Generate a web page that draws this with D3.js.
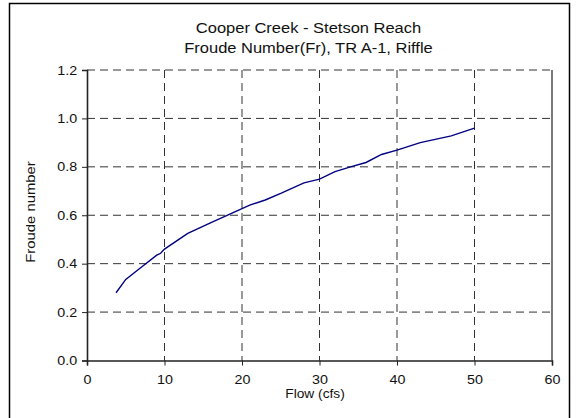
<!DOCTYPE html>
<html>
<head>
<meta charset="utf-8">
<script src="https://cdn.jsdelivr.net/npm/d3@7"></script>
<style>
  html, body { margin: 0; padding: 0; background: #fff; }
  svg { display: block; font-family: "Liberation Sans", Arial, sans-serif; }
</style>
</head>
<body>
<svg id="chart" width="582" height="418"></svg>
<script>
// Froude number vs. flow, Cooper Creek - Stetson Reach, TR A-1 riffle
const flow   = [3.75, 5, 7, 9, 9.5, 10, 13, 16, 19, 21, 23, 25, 28, 30, 32, 34, 36, 38, 40, 43, 47, 50];
const froude = [0.28, 0.335, 0.385, 0.435, 0.443, 0.46, 0.525, 0.57, 0.613, 0.642, 0.663, 0.69, 0.734, 0.749, 0.78, 0.80, 0.818, 0.851, 0.869, 0.90, 0.928, 0.96];

const xTicks = [0, 10, 20, 30, 40, 50, 60];
const yTicks = [0.0, 0.2, 0.4, 0.6, 0.8, 1.0, 1.2];

const titleLines = ["Cooper Creek - Stetson Reach", "Froude Number(Fr), TR A-1, Riffle"];
const xLabel = "Flow (cfs)";
const yLabel = "Froude number";

const svg = d3.select("#chart");
const plot = { left: 87, right: 552, top: 70, bottom: 360.5 };
const WIDE = 1.1; // the labels use a slightly wide sans face

const x = d3.scaleLinear().domain([0, 60]).range([plot.left, plot.right]);
const y = d3.scaleLinear().domain([0, 1.2]).range([plot.bottom, plot.top]);

// outer frame (open at the bottom)
svg.append("path")
  .attr("d", `M9.5,418 V3.5 H569.5 V418`)
  .attr("fill", "none").attr("stroke", "#000").attr("stroke-width", 1.5);

// dashed grid
const grid = svg.append("g").attr("stroke", "#333").attr("stroke-width", 1)
  .attr("stroke-dasharray", "8,5").attr("fill", "none");
grid.selectAll("line.h").data(yTicks.filter(d => d > 0)).join("line")
  .attr("x1", plot.left).attr("x2", plot.right)
  .attr("y1", d => y(d)).attr("y2", d => y(d));
grid.selectAll("line.v").data(xTicks.filter(d => d > 0 && d < 60)).join("line")
  .attr("y1", plot.top).attr("y2", plot.bottom)
  .attr("x1", d => x(d)).attr("x2", d => x(d));

// right frame of plot area
svg.append("line")
  .attr("x1", plot.right).attr("x2", plot.right)
  .attr("y1", plot.top).attr("y2", plot.bottom)
  .attr("stroke", "#222").attr("stroke-width", 1.2);

// axes
const xAxis = d3.axisBottom(x).tickValues(xTicks).tickFormat(d3.format("d")).tickSize(5).tickPadding(9);
const yAxis = d3.axisLeft(y).tickValues(yTicks).tickFormat(d3.format(".1f")).tickSize(5).tickPadding(4);

const gx = svg.append("g").attr("transform", `translate(0,${plot.bottom})`).call(xAxis);
const gy = svg.append("g").attr("transform", `translate(${plot.left},0)`).call(yAxis);
[gx, gy].forEach(g => {
  g.select(".domain").attr("stroke", "#222").attr("stroke-width", 1.6);
  g.selectAll(".tick line").attr("stroke", "#222");
  g.selectAll(".tick text").attr("fill", "#111")
    .attr("transform", `scale(${WIDE},1)`)
    .style("font-family", "'Liberation Sans', Arial, sans-serif").style("font-size", "13px");
});

// series line
const line = d3.line().x((d, i) => x(flow[i])).y(d => y(d));
svg.append("path")
  .datum(froude)
  .attr("d", line)
  .attr("fill", "none")
  .attr("stroke", "#000080")
  .attr("stroke-width", 1.4);

// titles
svg.append("g").selectAll("text").data(titleLines).join("text")
  .attr("transform", (d, i) => `translate(308.5,${32.5 + i * 20}) scale(${WIDE},1)`)
  .attr("text-anchor", "middle").attr("font-size", 15).attr("fill", "#111")
  .text(d => d);

svg.append("text")
  .attr("transform", `translate(315,398) scale(${WIDE},1)`)
  .attr("text-anchor", "middle").attr("font-size", 12.5).attr("fill", "#111")
  .text(xLabel);

svg.append("text")
  .attr("transform", `translate(35,212) rotate(-90) scale(${WIDE},1)`)
  .attr("text-anchor", "middle").attr("font-size", 13.5).attr("fill", "#111")
  .text(yLabel);
</script>
</body>
</html>
